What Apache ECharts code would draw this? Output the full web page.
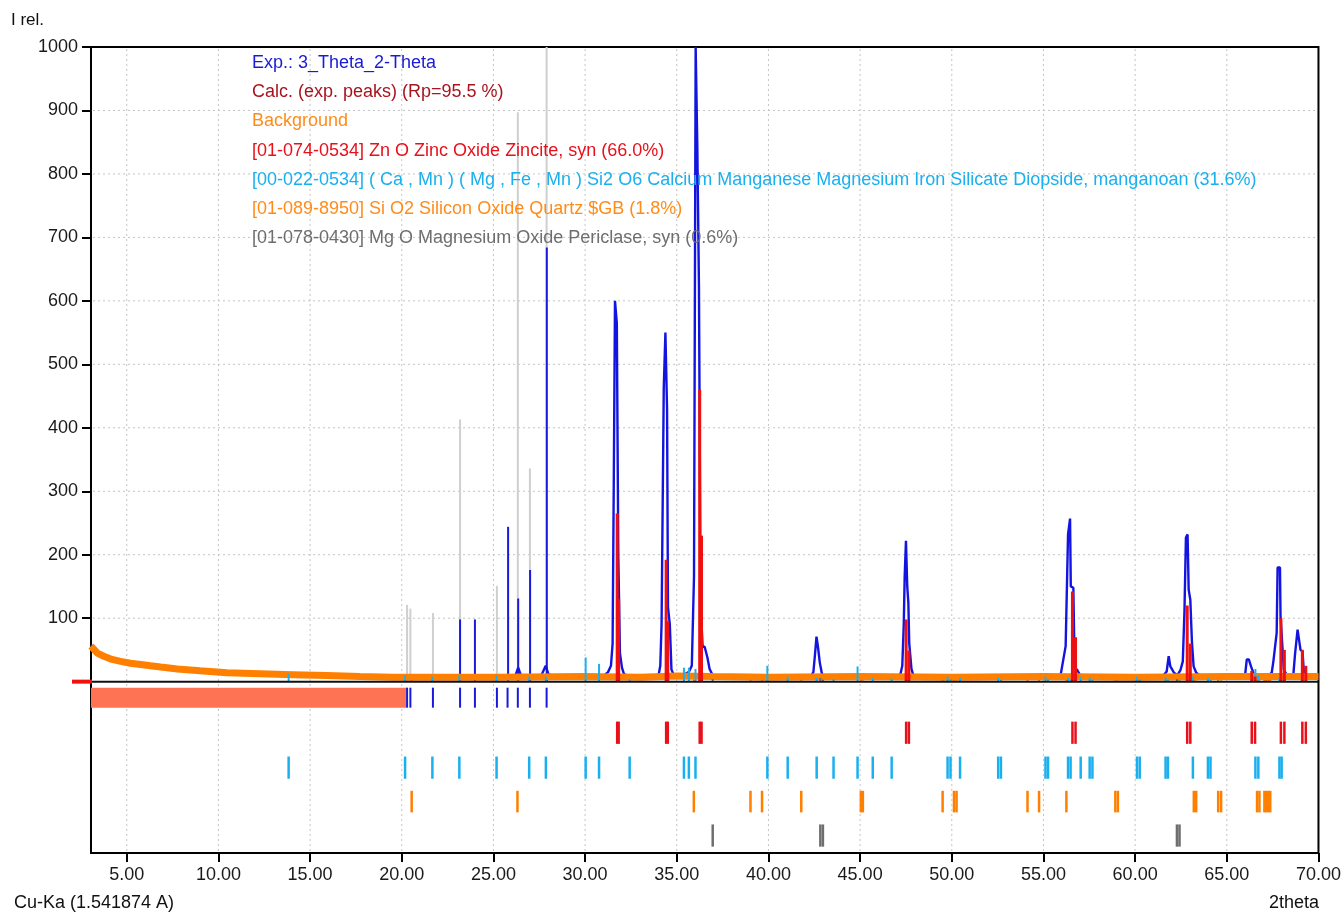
<!DOCTYPE html>
<html><head><meta charset="utf-8">
<script src="https://cdn.jsdelivr.net/npm/echarts@6/dist/echarts.min.js"></script>
<style>html,body{margin:0;padding:0;background:#fff}#c{width:1344px;height:912px}</style>
</head><body><div id="c"></div>
<script>
// ---------------- data ----------------
const xTicks = [5,10,15,20,25,30,35,40,45,50,55,60,65,70];
const yTicks = [100,200,300,400,500,600,700,800,900,1000];
const yTickMarks = [0,100,200,300,400,500,600,700,800,900,1000];

// experimental pattern [2theta, I]
const expPoints = [
 [3.05,58],[3.5,44],[4.0,37],[5.0,31],[6.0,27],[7.0,24],[8.0,21],[9.0,18],[10.0,16],[12.0,13],[14.0,11],[16.0,9],[18.0,7],
 [20.0,7],[22.0,7],[24.0,7],[25.5,8],[26.2,10],[26.35,22],[26.5,10],[27.6,9],[27.85,25],[28.0,12],[28.3,8],[30.0,8],[31.0,9],
 [31.25,15],[31.41,25],[31.50,60],[31.56,300],[31.63,600],[31.73,565],[31.81,200],[31.90,45],[32.01,22],[32.12,12],[32.4,8],
 [33.0,5],[33.8,8],[34.02,12],[34.10,25],[34.17,90],[34.29,463],[34.38,550],[34.47,430],[34.52,118],[34.62,90],[34.71,19],[34.84,10],
 [35.2,8],[35.65,15],[35.82,25],[35.94,166],[36.03,1000],[36.12,844],[36.21,622],[36.30,120],[36.41,55],[36.52,55],[36.67,38],[36.79,20],[36.96,10],
 [37.5,8],[40.0,7],[42.3,8],[42.45,15],[42.53,40],[42.62,71],[42.70,55],[42.80,30],[42.92,12],[43.2,7],[45.0,7],
 [47.0,8],[47.20,12],[47.30,25],[47.38,90],[47.43,165],[47.50,222],[47.57,150],[47.63,125],[47.68,60],[47.80,20],[47.90,10],[48.2,7],
 [52.0,6],[55.8,8],[55.94,11],[56.21,56],[56.34,232],[56.45,257],[56.49,150],[56.63,148],[56.70,22],[56.85,18],[57.0,10],[57.5,8],
 [61.5,8],[61.72,16],[61.83,40],[61.92,24],[62.0,20],[62.12,14],[62.3,10],[62.47,18],[62.60,32],[62.69,111],[62.77,227],[62.86,232],
 [62.92,145],[63.01,129],[63.10,61],[63.19,24],[63.33,14],[63.6,8],[65.8,8],[66.00,11],[66.09,35],[66.20,35],[66.32,24],[66.41,22],[66.50,10],
 [67.2,8],[67.45,14],[67.54,32],[67.72,77],[67.77,180],[67.90,180],[67.93,103],[68.03,106],[68.11,19],[68.26,11],[68.5,9],
 [68.63,11],[68.72,43],[68.86,82],[68.95,82],[69.02,50],[69.13,48],[69.20,16],[69.35,10],[70.0,8]
];

// background [2theta, I]
const bgPoints = [
 [3.05,56],[3.4,45],[3.75,40],[4.2,35],[4.67,32],[5.2,29],[5.76,27],[6.3,25],[6.85,23],[7.76,20],[9.0,17],[10.47,14],
 [12.28,12.5],[14.08,11],[15.9,9.5],[17.72,8],[19.5,7],[25.0,7],[30.0,8],[33.0,7],[35.0,9],[37.0,8],[40.0,7],[45.0,8],
 [50.0,7],[55.0,8],[60.0,7],[65.0,8],[70.0,8]
];

// peak-search marks (row 1) and sticks
const expPeakPos = [20.29,20.47,21.70,23.18,23.99,25.19,25.77,26.33,26.99,27.90];
const expSticks = [[23.18,98],[23.99,98],[25.80,244],[26.35,131],[27.00,176],[27.91,684]];
const greySticks = [[20.29,121],[20.47,115],[21.70,108],[23.18,413],[25.19,151],[26.33,897],[26.99,336],[27.90,1000]];
const excludedRange = [3.05, 20.25];

// phases
const zincitePos = [31.75,31.83,34.42,34.51,36.25,36.35,47.51,47.66,56.58,56.75,62.84,63.01,66.36,66.54,67.95,68.14,69.12,69.31];
const zinciteInt = [265,130,192,95,460,230,98,49,142,70,120,60,17,8,100,50,50,25];

const diopsidePos = [13.83,20.18,21.67,23.14,25.17,26.95,27.86,30.03,30.76,32.43,35.39,35.66,36.02,39.94,41.05,42.63,43.55,44.86,45.69,46.72,
 49.77,49.93,50.45,52.53,52.68,55.11,55.25,56.34,56.48,57.03,57.52,57.67,60.10,60.25,61.66,61.79,63.15,63.97,64.11,66.56,66.72,67.87,67.99];
const diopsideInt = [12,10,8,10,10,8,8,38,28,4,22,22,20,25,8,6,4,24,6,5,
 8,4,6,6,3,8,4,6,3,8,6,3,8,4,6,3,8,6,3,20,10,6,3];

const quartzPos = [20.54,26.31,35.93,39.02,39.65,41.79,45.04,45.15,49.50,50.12,50.26,54.13,54.76,56.25,58.92,59.06,63.20,63.33,
 64.53,64.69,66.65,66.78,67.05,67.15,67.26,67.37];
const quartzInt = [4,8,4,3,3,3,3,2,3,3,2,3,3,3,3,2,3,2,3,2,3,2,3,3,3,3];

const periclasePos = [36.96,42.83,42.97,62.28,62.42];
const periclaseInt = [4,6,3,4,2];

const legendLines = [
 ['Exp.: 3_Theta_2-Theta', '#1a1ad8'],
 ['Calc. (exp. peaks) (Rp=95.5 %)', '#a8141e'],
 ['Background', '#ff8c1a'],
 ['[01-074-0534] Zn O Zinc Oxide Zincite, syn (66.0%)', '#e8101a'],
 ['[00-022-0534] ( Ca , Mn ) ( Mg , Fe , Mn ) Si2 O6 Calcium Manganese Magnesium Iron Silicate Diopside, manganoan (31.6%)', '#1ab0ee'],
 ['[01-089-8950] Si O2 Silicon Oxide Quartz $GB (1.8%)', '#ff8c1a'],
 ['[01-078-0430] Mg O Magnesium Oxide Periclase, syn (0.6%)', '#6e6e6e']
];

// ---------------- layout / style ----------------
const X_MIN = 3.05, X_MAX = 70, Y_MIN = -270, Y_MAX = 1000;
const ROWS = { exp:[-9.5,-41], zn:[-63,-98], di:[-118,-153], qz:[-172,-206], mg:[-225,-260] };
const FONT = '"Liberation Sans", Arial, sans-serif';

function pair(pos, ints){ return pos.map((p,i)=>[p, ints[i]]); }

function stickSeries(name, data, color, width, z){
  return { type:'custom', name, data, z, silent:true, clip:true, encode:{x:0,y:1},
    renderItem(params, api){
      const a = api.coord([api.value(0), 0]);
      const b = api.coord([api.value(0), api.value(1)]);
      return { type:'line', shape:{x1:a[0],y1:a[1],x2:b[0],y2:b[1]}, style:{stroke:color, lineWidth:width} };
    } };
}
function rowSeries(name, positions, row, color, width, z){
  return { type:'custom', name, data: positions.map(p=>[p, row[0], row[1]]), z, silent:true, clip:true, encode:{x:0,y:[1,2]},
    renderItem(params, api){
      const a = api.coord([api.value(0), api.value(1)]);
      const b = api.coord([api.value(0), api.value(2)]);
      return { type:'line', shape:{x1:a[0],y1:a[1],x2:b[0],y2:b[1]}, style:{stroke:color, lineWidth:width} };
    } };
}

const chart = echarts.init(document.getElementById('c'), null, {renderer:'canvas'});

const graphics = legendLines.map((l,i)=>({
  type:'text', x:252, y:63 + i*29.2, z:50,
  style:{ text:l[0], fill:l[1], fontSize:18, fontFamily:FONT, verticalAlign:'middle' }
}));
graphics.push({type:'text', x:11, y:20, style:{text:'I rel.', fill:'#111', fontSize:17, fontFamily:FONT, verticalAlign:'middle'}});
graphics.push({type:'text', x:14, y:903, style:{text:'Cu-Ka (1.541874 A)', fill:'#111', fontSize:18, fontFamily:FONT, verticalAlign:'middle'}});
graphics.push({type:'text', x:1269, y:903, style:{text:'2theta', fill:'#111', fontSize:18, fontFamily:FONT, verticalAlign:'middle'}});

const gridX = xTicks.filter(v => v < X_MAX);
const gridY = yTicks.filter(v => v < Y_MAX);

const option = {
  animation:false,
  backgroundColor:'#fff',
  grid:{ left:91, right:23, top:47, bottom:59, show:true, borderColor:'#000', borderWidth:2, backgroundColor:'transparent' },
  xAxis:{ type:'value', min:X_MIN, max:X_MAX,
    axisLine:{show:false, onZero:false}, splitLine:{show:false},
    axisTick:{show:true, inside:false, length:9, customValues:xTicks, lineStyle:{color:'#000', width:2}},
    axisLabel:{show:true, customValues:xTicks, margin:13, fontSize:18, fontFamily:FONT, color:'#1a1a1a', formatter:v=>v.toFixed(2)} },
  yAxis:{ type:'value', min:Y_MIN, max:Y_MAX,
    axisLine:{show:false, onZero:false}, splitLine:{show:false},
    axisTick:{show:true, inside:false, length:9, customValues:yTickMarks, lineStyle:{color:'#000', width:2}},
    axisLabel:{show:true, customValues:yTicks, margin:13, fontSize:18, fontFamily:FONT, color:'#1a1a1a', formatter:v=>String(v)} },
  graphic: graphics,
  series:[
    // dotted grid
    { type:'custom', name:'vgrid', data:gridX.map(v=>[v]), z:1, silent:true, encode:{x:0},
      renderItem(p, api){ const a=api.coord([api.value(0), Y_MIN]); const b=api.coord([api.value(0), Y_MAX]);
        return {type:'line', shape:{x1:a[0],y1:a[1]-2,x2:b[0],y2:b[1]+2}, style:{stroke:'#c4c4c4', lineWidth:1, lineDash:[2,3]}}; } },
    { type:'custom', name:'hgrid', data:gridY.map(v=>[X_MIN, v]), z:1, silent:true, encode:{x:0,y:1},
      renderItem(p, api){ const a=api.coord([X_MIN, api.value(1)]); const b=api.coord([X_MAX, api.value(1)]);
        return {type:'line', shape:{x1:a[0]+2,y1:a[1],x2:b[0]-2,y2:b[1]}, style:{stroke:'#c4c4c4', lineWidth:1, lineDash:[2,3]}}; } },
    stickSeries('grey', greySticks, '#cfcfcf', 2, 2),
    stickSeries('expSticks', expSticks, '#1a1ad8', 2, 3),
    { type:'line', name:'Exp', data:expPoints, showSymbol:false, z:4, silent:true,
      lineStyle:{color:'#1414e0', width:2.4}, itemStyle:{color:'#1414e0'} },
    { type:'line', name:'Background', data:bgPoints, showSymbol:false, z:5, silent:true,
      lineStyle:{color:'#ff8000', width:7}, itemStyle:{color:'#ff8000'} },
    stickSeries('diTop', pair(diopsidePos, diopsideInt), '#1ab0ee', 2, 6),
    stickSeries('qzTop', pair(quartzPos, quartzInt), '#ff8000', 2, 6),
    stickSeries('mgTop', pair(periclasePos, periclaseInt), '#6e6e6e', 2, 6),
    stickSeries('znTop', pair(zincitePos, zinciteInt), '#f01010', 3, 7),
    { type:'custom', name:'zero', data:[[X_MIN,0]], z:8, silent:true, encode:{x:0,y:1},
      renderItem(p, api){ const a=api.coord([X_MIN,0]); const b=api.coord([X_MAX,0]);
        return {type:'line', shape:{x1:a[0],y1:a[1],x2:b[0],y2:b[1]}, style:{stroke:'#111', lineWidth:2}}; } },
    { type:'custom', name:'excluded', data:[[excludedRange[0], excludedRange[1]]], z:8, silent:true, encode:{x:[0,1]},
      renderItem(p, api){ const a=api.coord([api.value(0), ROWS.exp[0]]); const b=api.coord([api.value(1), ROWS.exp[1]]);
        return {type:'rect', shape:{x:a[0], y:a[1], width:b[0]-a[0], height:b[1]-a[1]}, style:{fill:'#ff7355'}}; } },
    rowSeries('expRow', expPeakPos, ROWS.exp, '#1a1ad8', 2, 9),
    rowSeries('znRow', zincitePos, ROWS.zn, '#e8101a', 2.5, 9),
    rowSeries('diRow', diopsidePos, ROWS.di, '#1ab0ee', 2.5, 9),
    rowSeries('qzRow', quartzPos, ROWS.qz, '#ff8000', 2.5, 9),
    rowSeries('mgRow', periclasePos, ROWS.mg, '#6e6e6e', 2.5, 9)
  ]
};
chart.setOption(option);

// small red marker at the zero level on the intensity axis
const y0 = chart.convertToPixel({yAxisIndex:0}, 0);
chart.setOption({ graphic: graphics.concat([{ type:'rect', z:60, shape:{x:72, y:y0-2, width:20, height:4}, style:{fill:'#f01010'} }]) });
</script>
</body></html>
